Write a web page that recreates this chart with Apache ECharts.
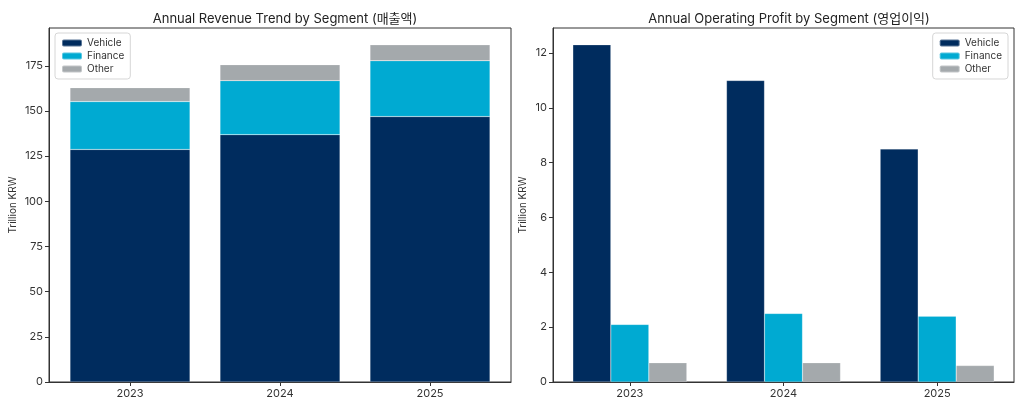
<!DOCTYPE html>
<html>
<head>
<meta charset="utf-8">
<script src="https://cdn.jsdelivr.net/npm/echarts@6/dist/echarts.min.js"></script>
<style>html,body{margin:0;padding:0;background:#fff}#c{width:1024px;height:410px}</style>
</head>
<body>
<div id="c"></div>
<script>
const categories = ['2023', '2024', '2025'];
const segments = ['Vehicle', 'Finance', 'Other'];
const revenueVehicle = [128.7, 136.9, 146.9];
const revenueFinance = [26.5, 29.9, 30.9];
const revenueOther = [7.7, 8.8, 8.8];
const profitVehicle = [12.3, 11.0, 8.5];
const profitFinance = [2.1, 2.5, 2.4];
const profitOther = [0.7, 0.7, 0.6];
const revenueTicks = [0, 25, 50, 75, 100, 125, 150, 175];
const profitTicks = [0, 2, 4, 6, 8, 10, 12];

const colors = {Vehicle: '#002C5E', Finance: '#00AAD2', Other: '#A4A9AC'};
const FONT = "Inter, 'Noto Sans CJK KR', sans-serif";
const textColor = '#333';

const chart = echarts.init(document.getElementById('c'));

const revTotals = categories.map((c, i) => revenueVehicle[i] + revenueFinance[i] + revenueOther[i]);
const revMax = Math.max(...revTotals) * 1.05;
const profMax = Math.max(...profitVehicle, ...profitFinance, ...profitOther) * 1.05;

function legend(pos) {
  return Object.assign({
    orient: 'vertical',
    data: segments,
    itemWidth: 20, itemHeight: 7, itemGap: 3,
    borderColor: '#d6d6d6', borderWidth: 1, borderRadius: 3,
    padding: [5, 6, 5, 6],
    backgroundColor: 'rgba(255,255,255,0.8)',
    textStyle: {fontFamily: FONT, fontSize: 10, color: textColor}
  }, pos);
}

const revSeriesData = [revenueVehicle, revenueFinance, revenueOther];
const profSeriesData = [profitVehicle, profitFinance, profitOther];
const barEdge = {borderColor: 'rgba(255,255,255,0.35)', borderWidth: 0.5};

const series = [];
segments.forEach((s, k) => {
  series.push({
    name: s, type: 'bar', stack: 'rev', xAxisIndex: 0, yAxisIndex: 0,
    barWidth: 120,
    encode: {x: 1, y: 0},
    itemStyle: Object.assign({color: colors[s]}, barEdge),
    data: revSeriesData[k].map((v, i) => [v, i])
  });
});
segments.forEach((s, k) => {
  series.push({
    name: s, type: 'bar', xAxisIndex: 1, yAxisIndex: 1,
    barWidth: 38, barGap: '0%',
    itemStyle: Object.assign({color: colors[s]}, barEdge),
    data: profSeriesData[k]
  });
});

const axisLine = {show: true, onZero: false, lineStyle: {color: '#333', width: 1}};
const axisTick = {show: true, length: 4, lineStyle: {color: '#333'}};
const axisLabel = {fontFamily: FONT, fontSize: 11, color: textColor};

chart.setOption({
  animation: false,
  title: [
    {text: 'Annual Revenue Trend by Segment (매출액)', left: 280, top: 8, textAlign: 'center',
     textStyle: {fontFamily: FONT, fontSize: 13, fontWeight: 'normal', color: '#222'}},
    {text: 'Annual Operating Profit by Segment (영업이익)', left: 784, top: 8, textAlign: 'center',
     textStyle: {fontFamily: FONT, fontSize: 13, fontWeight: 'normal', color: '#222'}}
  ],
  legend: [
    legend({left: 55, top: 33}),
    legend({right: 16, top: 33})
  ],
  grid: [
    {left: 49, right: 513, top: 28, bottom: 28, show: true, borderColor: '#333', borderWidth: 1, containLabel: false},
    {left: 553, right: 10, top: 28, bottom: 28, show: true, borderColor: '#333', borderWidth: 1, containLabel: false}
  ],
  xAxis: [
    {type: 'value', gridIndex: 0, min: -0.54, max: 2.54,
     axisLine, splitLine: {show: false},
     axisTick: Object.assign({customValues: categories.map((c, i) => i)}, axisTick),
     axisLabel: Object.assign({customValues: categories.map((c, i) => i), margin: 6,
       formatter: v => categories[Math.round(v)] || ''}, axisLabel)},
    {type: 'category', gridIndex: 1, data: categories,
     axisLine, axisTick: Object.assign({alignWithLabel: true}, axisTick),
     axisLabel: Object.assign({margin: 6}, axisLabel)}
  ],
  yAxis: [
    {type: 'value', gridIndex: 0, min: 0, max: revMax,
     name: 'Trillion KRW', nameLocation: 'middle', nameGap: 31,
     nameTextStyle: {fontFamily: FONT, fontSize: 10, color: textColor},
     axisLine, splitLine: {show: false},
     axisTick: Object.assign({customValues: revenueTicks}, axisTick),
     axisLabel: Object.assign({customValues: revenueTicks, margin: 6}, axisLabel)},
    {type: 'value', gridIndex: 1, min: 0, max: profMax,
     name: 'Trillion KRW', nameLocation: 'middle', nameGap: 25,
     nameTextStyle: {fontFamily: FONT, fontSize: 10, color: textColor},
     axisLine, splitLine: {show: false},
     axisTick: Object.assign({customValues: profitTicks}, axisTick),
     axisLabel: Object.assign({customValues: profitTicks, margin: 6}, axisLabel)}
  ],
  series
});
</script>
</body>
</html>
